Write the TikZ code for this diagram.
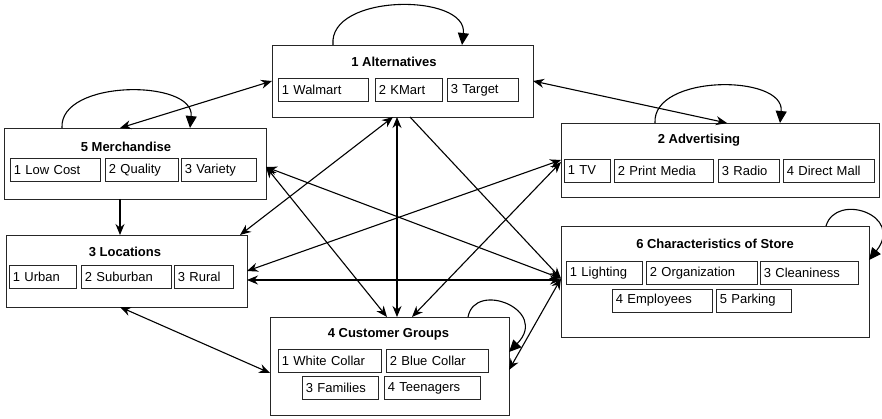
\documentclass[tikz,border=0pt]{standalone}
\usepackage{fontspec}
\setmainfont{Liberation Sans}
\usetikzlibrary{arrows.meta}

\begin{document}
\begin{tikzpicture}[x=1pt,y=1pt,font=\fontsize{13}{15}\selectfont,>={Stealth[length=11pt,width=9pt]},
 groupbox/.style={draw=black!85,line width=.9pt,inner sep=0pt,outer sep=0pt},
 grouptitle/.style={font=\fontsize{13}{15}\selectfont\bfseries},
 item/.style={draw=black!85,line width=.8pt,anchor=west,align=left,inner sep=3.5pt,minimum height=23pt},
 twoway/.style={<->,line width=1.1pt},
 oneway/.style={->,line width=1.1pt},
 selfarc/.style={-{Triangle[length=12pt,width=11pt]},line width=1.1pt}]
 \useasboundingbox (0,0) rectangle (882,418);
 \node[groupbox,minimum width=261pt,minimum height=72pt] (alt) at (402.5,337) {};
 \node[groupbox,minimum width=318pt,minimum height=74pt] (adv) at (720,258) {};
 \node[groupbox,minimum width=262pt,minimum height=71pt] (mer) at (135,254.5) {};
 \node[groupbox,minimum width=241pt,minimum height=72pt] (loc) at (126.5,147) {};
 \node[groupbox,minimum width=308pt,minimum height=111pt] (chr) at (715,136.5) {};
 \node[groupbox,minimum width=239pt,minimum height=98pt] (cus) at (389.5,52) {};
 \node[grouptitle] (alt-t) at (394,356) {1 Alternatives};
 \node[grouptitle] (adv-t) at (699,278) {2 Advertising};
 \node[grouptitle] (loc-t) at (125,166) {3 Locations};
 \node[grouptitle] (cus-t) at (388.5,84) {4 Customer Groups};
 \node[grouptitle] (mer-t) at (126,271) {5 Merchandise};
 \node[grouptitle] (chr-t) at (715,174) {6 Characteristics of Store};
 \foreach \n/\x/\w/\t in {1/278/90/1 Walmart,2/375/67/2 KMart,3/447/71/3 Target}{
  \pgfmathsetmacro\tw{\w-7}
  \node[item,text width=\tw pt] (alt-\n) at (\x,328) {\t};
 }
 \foreach \n/\x/\w/\t in {1/564/46/1 TV,2/614/99/2 Print Media,3/718/61/3 Radio,4/783/91/4 Direct Mall}{
  \pgfmathsetmacro\tw{\w-7}
  \node[item,text width=\tw pt] (adv-\n) at (\x,247.5) {\t};
 }
 \foreach \n/\x/\w/\t in {1/9/67/1 Urban,2/81/90/2 Suburban,3/174/59/3 Rural}{
  \pgfmathsetmacro\tw{\w-7}
  \node[item,text width=\tw pt] (loc-\n) at (\x,141.5) {\t};
 }
 \foreach \n/\x/\y/\w/\t in {1/278/57/103/1 White Collar,2/386/57/102/2 Blue Collar,
   3/302/30/76/3 Families,4/384/30/96/4 Teenagers}{
  \pgfmathsetmacro\tw{\w-7}
  \node[item,text width=\tw pt] (cus-\n) at (\x,\y) {\t};
 }
 \foreach \n/\x/\w/\t in {1/10/90/1 Low Cost,2/105/73/2 Quality,3/181/75/3 Variety}{
  \pgfmathsetmacro\tw{\w-7}
  \node[item,text width=\tw pt] (mer-\n) at (\x,248) {\t};
 }
 \foreach \n/\x/\y/\w/\t in {1/566/145/76/1 Lighting,2/646/145/111/2 Organization,
   3/760/145/98/3 Cleaniness,4/612/117.5/100/4 Employees,5/716/117.5/75/5 Parking}{
  \pgfmathsetmacro\tw{\w-7}
  \node[item,text width=\tw pt] (chr-\n) at (\x,\y) {\t};
 }
 \draw[twoway] (alt.west) -- ([xshift=-15pt]mer.north);
 \draw[twoway] (alt.east) -- ([xshift=7pt]adv.north);
 \draw[oneway] ([xshift=-15pt]mer.south) -- ([xshift=-6.5pt]loc.north);
 \draw[twoway] ([xshift=-5.5pt]alt.south) -- ([xshift=7.5pt]cus.north);
 \draw[twoway] ([xshift=-9.5pt]alt.south) -- ([xshift=-7pt]loc.north east);
 \draw[oneway] ([xshift=7.5pt]alt.south) -- ([yshift=3pt]chr.west);
 \draw[twoway] ([yshift=-3.5pt]mer.east) -- ([yshift=3pt]chr.west);
 \draw[twoway] ([yshift=-3.5pt]mer.east) -- ([xshift=-2.5pt]cus.north);
 \draw[twoway] (loc.east) -- (adv.west);
 \draw[twoway] ([yshift=-9pt]loc.east) -- ([yshift=1.5pt]chr.west);
 \draw[twoway] ([yshift=-2pt]adv.west) -- ([xshift=22.5pt]cus.north);
 \draw[twoway] ([xshift=-6.5pt]loc.south) -- ([yshift=-7pt]cus.west);
 \draw[twoway] ([yshift=3pt]chr.west) -- ([yshift=-4pt]cus.east);
 \draw[selfarc] ([xshift=-69.5pt]alt.north) .. controls +(-5,52) and +(6,52) .. ([xshift=59.5pt]alt.north);
 \draw[selfarc] ([xshift=-73pt]mer.north) .. controls +(-3,49) and +(5,49) .. ([xshift=55pt]mer.north);
 \draw[selfarc] ([xshift=-65pt]adv.north) .. controls +(-3,49) and +(5,49) .. ([xshift=60pt]adv.north);
 \draw[selfarc] ([xshift=111pt]chr.north) .. controls +(10,34) and +(36,45) .. ([yshift=21.5pt]chr.east);
 \draw[selfarc] ([xshift=78.5pt]cus.north) .. controls +(7,37) and +(41,42) .. ([yshift=14pt]cus.east);
\end{tikzpicture}
\end{document}
